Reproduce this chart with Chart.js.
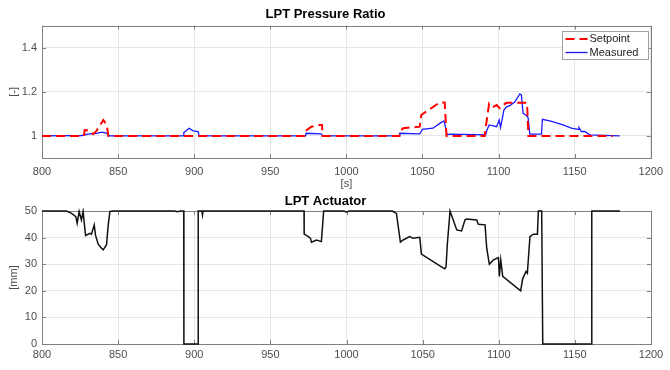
<!DOCTYPE html>
<html>
<head>
<meta charset="utf-8">
<script src="https://cdn.jsdelivr.net/npm/chart.js@4/dist/chart.umd.min.js"></script>
<style>
body { margin: 0; background: #fff; }
canvas { position: absolute; left: 0; }
#ratioCanvas { top: 0; }
#actCanvas { top: 190px; }
</style>
</head>
<body>
<canvas id="ratioCanvas" width="670" height="190"></canvas>
<canvas id="actCanvas" width="670" height="180"></canvas>
<script>
// time axis ticks (both plots)
const timeTicks = [800, 850, 900, 950, 1000, 1050, 1100, 1150, 1200];
const ratioTicks = [1, 1.2, 1.4];
const actTicks = [0, 10, 20, 30, 40, 50];

// LPT pressure ratio - setpoint
const setpointTime = [800, 827.5, 828.1, 831.4, 833.6, 835.8, 840.3, 842.5, 843.6, 972.3, 972.7, 977, 982.5, 984, 984.3,
    1034.8, 1035.1, 1037.3, 1048.2, 1049.2, 1061.4, 1064.6, 1065.8, 1090.9, 1091.5, 1093.8, 1096.5, 1098.7, 1100.9,
    1103, 1105.2, 1118.7, 1119.6, 1175.2];
const setpointValue = [1, 1, 1.027, 1.023, 1.008, 1.023, 1.072, 1.05, 1, 1, 1.02, 1.042, 1.05, 1.05, 1,
    1, 1.02, 1.035, 1.042, 1.095, 1.152, 1.152, 1, 1, 1.035, 1.147, 1.132, 1.14, 1.125,
    1.14, 1.15, 1.15, 1, 1];

// LPT pressure ratio - measured
const measuredTime = [800, 826.3, 830, 836, 839.3, 842.6, 844.4, 892.8, 893.2, 896.7, 899.3, 902.6, 903.2, 973.2, 973.5,
    983.4, 984.5, 1034.8, 1035.1, 1048.2, 1049.9, 1056.9, 1061.4, 1064, 1064.6, 1066.1, 1067.9, 1091.5, 1092, 1093.8,
    1098.7, 1100.4, 1101.3, 1103.5, 1105.2, 1107.4, 1110.7, 1114, 1115, 1116.1, 1117.9, 1119.4, 1120.5, 1128.2,
    1128.8, 1133.6, 1142.4, 1147.8, 1152.2, 1152.8, 1154.4, 1156.6, 1159.9, 1179.6];
const measuredValue = [1, 1.002, 1.008, 1.012, 1.017, 1.012, 1, 1, 1.015, 1.035, 1.023, 1.02, 1, 1, 1.012,
    1.009, 1, 1, 1.012, 1.009, 1.03, 1.035, 1.057, 1.068, 1.057, 1.005, 1.008, 1.005, 1.02, 1.05,
    1.042, 1.072, 1.038, 1.117, 1.132, 1.137, 1.155, 1.19, 1.185, 1.102, 1.095, 1.083, 1.008, 1.008,
    1.075, 1.068, 1.05, 1.035, 1.03, 1.038, 1.02, 1.02, 1.005, 1];

// LPT actuator position [mm]
const actTime = [800, 816.1, 819.4, 822.2, 823.1, 824.4, 825.9, 827, 828.6, 831.4, 832.5, 834.3, 835.1, 836.9, 839.1,
    840.2, 842.4, 843.5, 844.6, 846, 887, 889, 891, 893.1, 893.2, 902.5, 902.6, 905, 905.4, 905.8, 972.1,
    972.2, 973.7, 976.3, 977, 980.3, 983.5, 985, 998, 999.9, 1002, 1030, 1032.8, 1035.4, 1037.2, 1041.5, 1043.7,
    1048.1, 1049.2, 1063.4, 1064.5, 1065.4, 1066.2, 1068, 1069.7, 1072.4, 1075.6, 1077.8, 1078.9, 1085.5, 1086.6,
    1091, 1092.1, 1093.8, 1096.5, 1099.8, 1100.4, 1101.3, 1102.6, 1114.4, 1115.7, 1117.9, 1118.8, 1120.5, 1122.7,
    1125.4, 1126, 1128.2, 1128.9, 1161, 1161.1, 1179.6];
const actValue = [50, 50, 49.1, 47.9, 45.4, 49.8, 46.6, 49.8, 40.8, 41.6, 41.3, 44.8, 41, 37.5, 36,
    35.4, 37.3, 44.8, 49.8, 50, 50, 49.7, 50, 50, 0, 0, 50, 50, 48.5, 50, 50,
    41.3, 40.8, 39.8, 38.3, 39.1, 38.5, 50, 50, 49.6, 50, 50, 49.1, 38.3, 39.1, 40.4, 39.8,
    40.1, 33.8, 28.6, 28.3, 29, 37.3, 50, 47.3, 42.9, 42.5, 46.6, 47, 46.6, 45,
    44.8, 36, 30, 31.6, 32.5, 25.4, 31.6, 25.4, 20, 24.5, 27.3, 26.6, 40.4, 41.3,
    41.3, 50, 50, 0, 0, 50, 50];

const fontFamily = "'Liberation Sans', Arial, sans-serif";
const tickColor = '#4d4d4d';
const gridColor = '#e6e6e6';

function toPoints(xs, ys) {
    return xs.map((x, i) => ({ x: x, y: ys[i] }));
}

// MATLAB style box round the axes, with small inward ticks (drawn under the lines)
const axesBox = {
    id: 'axesBox',
    beforeDatasetsDraw(chart) {
        const { ctx, chartArea, scales } = chart;
        const { left, right, top, bottom } = chartArea;
        ctx.save();
        ctx.strokeStyle = '#808080';
        ctx.lineWidth = 1;
        ctx.beginPath();
        scales.x.ticks.forEach(t => {
            const px = Math.round(scales.x.getPixelForValue(t.value)) + 0.5;
            ctx.moveTo(px, bottom); ctx.lineTo(px, bottom - 4);
            ctx.moveTo(px, top); ctx.lineTo(px, top + 4);
        });
        scales.y.ticks.forEach(t => {
            const py = Math.round(scales.y.getPixelForValue(t.value)) + 0.5;
            ctx.moveTo(left, py); ctx.lineTo(left + 4, py);
            ctx.moveTo(right, py); ctx.lineTo(right - 4, py);
        });
        ctx.stroke();
        ctx.strokeRect(Math.round(left) + 0.5, Math.round(top) + 0.5, Math.round(right - left), Math.round(bottom - top));
        ctx.restore();
    }
};

// legend drawn inside the plot, top right
const boxLegend = {
    id: 'boxLegend',
    afterDraw(chart) {
        if (!chart.options.plugins.boxLegend || !chart.options.plugins.boxLegend.show) return;
        const { ctx, chartArea } = chart;
        const w = 86, h = 28;
        const x = Math.round(chartArea.right - w - 3) + 0.5;
        const y = Math.round(chartArea.top + 5) + 0.5;
        ctx.save();
        ctx.fillStyle = '#fff';
        ctx.fillRect(x, y, w, h);
        ctx.strokeStyle = '#a0a0a0';
        ctx.lineWidth = 1;
        ctx.strokeRect(x, y, w, h);
        chart.data.datasets.forEach((ds, i) => {
            const ly = y + 7.5 + i * 13.5;
            ctx.strokeStyle = ds.borderColor;
            ctx.lineWidth = ds.borderWidth;
            ctx.setLineDash(ds.borderDash || []);
            ctx.beginPath();
            ctx.moveTo(x + 3, ly);
            ctx.lineTo(x + 25, ly);
            ctx.stroke();
            ctx.setLineDash([]);
            ctx.fillStyle = '#1a1a1a';
            ctx.font = '11px ' + fontFamily;
            ctx.textBaseline = 'middle';
            ctx.fillText(ds.label, x + 27, ly);
        });
        ctx.restore();
    }
};

function xScale(titleText, xHeight, tickPad) {
    return {
        type: 'linear',
        min: 800,
        max: 1200,
        afterBuildTicks: s => { s.ticks = timeTicks.map(v => ({ value: v })); },
        afterFit: s => { s.height = xHeight; },
        grid: { color: gridColor, drawTicks: false },
        border: { display: false },
        ticks: {
            color: tickColor, padding: tickPad, font: { family: fontFamily, size: 11 }, maxRotation: 0,
            callback: v => String(v)
        },
        title: {
            display: !!titleText,
            text: titleText,
            color: tickColor,
            font: { family: fontFamily, size: 11 },
            padding: { top: 0, bottom: -1 }
        }
    };
}

function yScale(titleText, min, max, tickList, fmt) {
    return {
        min: min,
        max: max,
        afterBuildTicks: s => { s.ticks = tickList.map(v => ({ value: v })); },
        afterFit: s => { s.width = 42; },
        grid: { color: gridColor, drawTicks: false },
        border: { display: false },
        ticks: { color: tickColor, padding: 5, font: { family: fontFamily, size: 11 }, callback: fmt },
        title: {
            display: true,
            text: titleText,
            color: tickColor,
            font: { family: fontFamily, size: 11 },
            padding: { top: 7, bottom: 0 }
        }
    };
}

function titleOpts(text, padTop, padBottom) {
    return {
        display: true,
        text: text,
        color: '#000',
        font: { family: fontFamily, size: 13, weight: 'bold' },
        padding: { top: padTop, bottom: padBottom }
    };
}

new Chart(document.getElementById('ratioCanvas'), {
    type: 'line',
    data: {
        datasets: [{
            label: 'Setpoint',
            data: toPoints(setpointTime, setpointValue),
            borderColor: '#ff0000',
            borderWidth: 2,
            borderDash: [9, 5],
            pointRadius: 0,
            fill: false
        }, {
            label: 'Measured',
            data: toPoints(measuredTime, measuredValue),
            borderColor: '#1a1aff',
            borderWidth: 1.3,
            pointRadius: 0,
            fill: false
        }]
    },
    options: {
        responsive: false,
        animation: false,
        layout: { padding: { left: 0, right: 19, top: 0, bottom: 0 } },
        plugins: {
            legend: { display: false },
            tooltip: { enabled: false },
            title: titleOpts('LPT Pressure Ratio', 6.5, 3.5),
            boxLegend: { show: true }
        },
        scales: {
            x: xScale('[s]', 32, 7),
            y: yScale('[-]', 0.9, 1.5, ratioTicks, v => String(Math.round(v * 10) / 10))
        }
    },
    plugins: [axesBox, boxLegend]
});

new Chart(document.getElementById('actCanvas'), {
    type: 'line',
    data: {
        datasets: [{
            label: 'Actuator',
            data: toPoints(actTime, actValue),
            borderColor: '#111',
            borderWidth: 1.5,
            pointRadius: 0,
            fill: false,
            clip: 3
        }]
    },
    options: {
        responsive: false,
        animation: false,
        layout: { padding: { left: 0, right: 19, top: 0, bottom: 0 } },
        plugins: {
            legend: { display: false },
            tooltip: { enabled: false },
            title: titleOpts('LPT Actuator', 3.2, 2.2)
        },
        scales: {
            x: xScale('', 26, 4),
            y: yScale('[mm]', 0, 50, actTicks, v => String(v))
        }
    },
    plugins: [axesBox]
});
</script>
</body>
</html>
